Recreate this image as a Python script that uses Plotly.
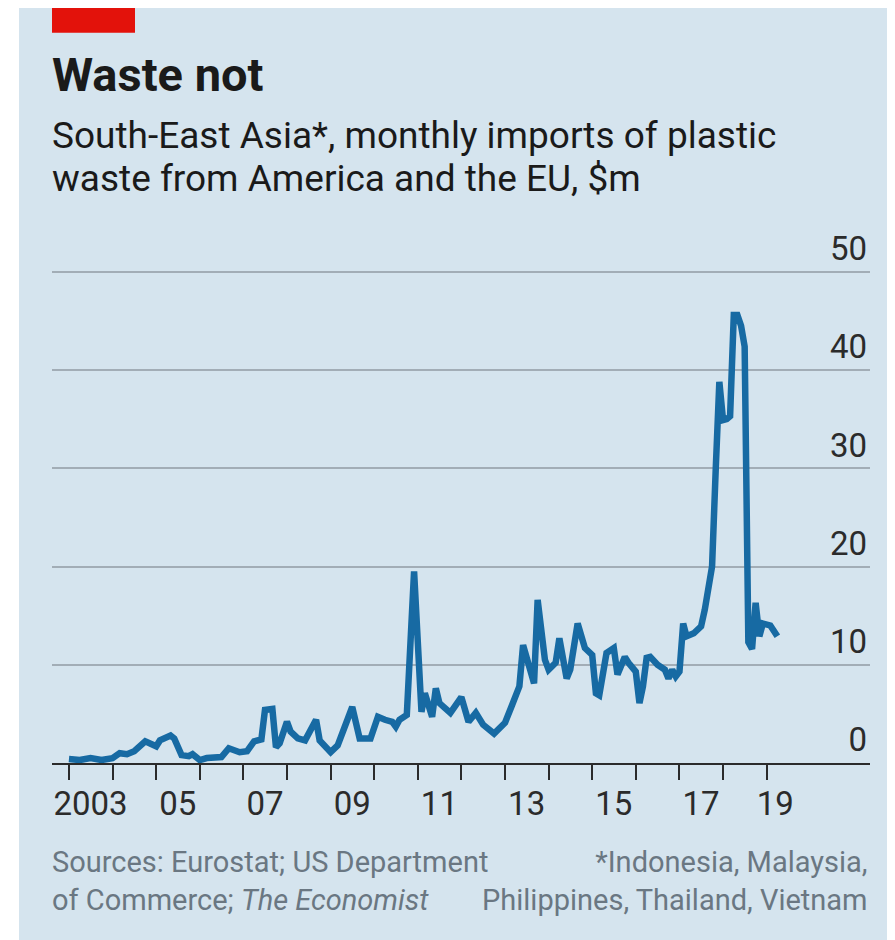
import plotly.graph_objects as go

# monthly imports of plastic waste, $m
dates = [
    "2003-01", "2003-04", "2003-07", "2003-10", "2004-01", "2004-03", "2004-05", "2004-07",
    "2004-10", "2005-01", "2005-02", "2005-05", "2005-06", "2005-08", "2005-10", "2005-11",
    "2006-01", "2006-03", "2006-07", "2006-09", "2006-12", "2007-02", "2007-04", "2007-06",
    "2007-07", "2007-09", "2007-10", "2007-11", "2008-01", "2008-02", "2008-04", "2008-06",
    "2008-09", "2008-10", "2009-01", "2009-03", "2009-07", "2009-09", "2009-12", "2010-02",
    "2010-04", "2010-06", "2010-07", "2010-08", "2010-10", "2010-12", "2011-02", "2011-03",
    "2011-05", "2011-06", "2011-07", "2011-10", "2012-01", "2012-03", "2012-05", "2012-07",
    "2012-10", "2013-01", "2013-03", "2013-05", "2013-06", "2013-08", "2013-09", "2013-10",
    "2013-12", "2014-01", "2014-03", "2014-04", "2014-06", "2014-07", "2014-09", "2014-11",
    "2015-01", "2015-02", "2015-03", "2015-05", "2015-07", "2015-08", "2015-10", "2015-11",
    "2016-01", "2016-02", "2016-03", "2016-04", "2016-05", "2016-07", "2016-09", "2016-10",
    "2016-11", "2016-12", "2017-01", "2017-02", "2017-03", "2017-05", "2017-07", "2017-08",
    "2017-09", "2017-10", "2017-11", "2017-12", "2018-01", "2018-02", "2018-03", "2018-04",
    "2018-05", "2018-06", "2018-07", "2018-08", "2018-09", "2018-10", "2018-11", "2018-12",
    "2019-02", "2019-04",
]
imports = [
    0.4, 0.3, 0.5, 0.3, 0.5, 1.0, 0.9, 1.2,
    2.2, 1.7, 2.3, 2.8, 2.5, 0.8, 0.7, 0.9,
    0.3, 0.5, 0.6, 1.5, 1.1, 1.2, 2.2, 2.4,
    5.4, 5.5, 1.6, 2.0, 4.2, 3.2, 2.5, 2.3,
    4.4, 2.3, 1.1, 1.8, 5.7, 2.5, 2.5, 4.7,
    4.4, 4.2, 3.7, 4.4, 4.9, 19.5, 5.2, 7.1,
    4.7, 7.6, 6.1, 5.1, 6.7, 4.2, 5.1, 3.9,
    3.0, 4.1, 5.9, 7.8, 12.0, 9.2, 8.1, 16.6,
    10.5, 9.5, 10.2, 12.7, 8.6, 9.5, 14.2, 11.7,
    11.0, 7.1, 6.9, 11.2, 11.7, 9.0, 10.8, 10.2,
    9.3, 6.1, 7.8, 10.7, 10.8, 10.0, 9.5, 8.6,
    9.5, 8.8, 9.3, 14.2, 12.9, 13.2, 13.9, 15.6,
    17.5, 20.0, 30.0, 38.8, 34.9, 35.0, 35.3, 45.6,
    45.6, 44.5, 42.4, 12.3, 11.6, 16.3, 12.9, 14.2,
    14.0, 12.9,
]

year_ticks = [f"{y}-01-01" for y in range(2003, 2020)]
label_pos = ["2003-07-01", "2005-07-01", "2007-07-01", "2009-07-01", "2011-07-01",
             "2013-07-01", "2015-07-01", "2017-07-01", "2019-03-15"]
label_text = ["2003", "05", "07", "09", "11", "13", "15", "17", "19"]
y_ticks = [0, 10, 20, 30, 40, 50]

BG = "#d5e4ee"
FONT = "Roboto"
OFF = 8  # page body margin

# figure coords: plot area x 44..862, zero line at 755, 9.82 px per unit
W, H = 895 - OFF, 940 - OFF
L, R, B = 44, 862, 755
YMAX = 57  # headroom so the inside "50" label is not clipped
T = B - YMAX * 9.82


def px(x):
    # page pixel -> paper fraction
    return (x - OFF - L) / (R - L)


def py(y):
    return (B - (y - OFF)) / (B - T)


fig = go.Figure()
fig.add_trace(
    go.Scatter(
        x=dates,
        y=imports,
        mode="lines",
        line=dict(color="#176aa3", width=6.5),
        hoverinfo="x+y",
    )
)

fig.update_layout(
    width=W,
    height=H,
    margin=dict(l=L, r=W - R, t=T, b=H - B),
    paper_bgcolor=BG,
    plot_bgcolor=BG,
    showlegend=False,
    font=dict(family=FONT, color="#2b2b2b"),
    xaxis=dict(
        type="date",
        range=["2002-08-12", "2021-05-16"],
        tickvals=label_pos,
        ticktext=label_text,
        ticks="",
        ticklabelstandoff=10,
        tickfont=dict(size=33, color="#2b2b2b"),
        showgrid=False,
        showline=True,
        linecolor="#2b2b2b",
        linewidth=2,
        zeroline=False,
        minor=dict(tickvals=year_ticks, ticks="outside", ticklen=15, tickwidth=2,
                   tickcolor="#2b2b2b", showgrid=False),
    ),
    yaxis=dict(
        range=[0, YMAX],
        side="right",
        tickvals=y_ticks,
        ticks="",
        ticklabelposition="inside top",
        tickfont=dict(size=33, color="#2b2b2b"),
        showgrid=True,
        gridcolor="#a2adb6",
        gridwidth=1.5,
        zeroline=False,
        showline=False,
    ),
    shapes=[
        # white strip on the left
        dict(type="rect", xref="paper", yref="paper", x0=px(0), x1=px(19), y0=py(945), y1=py(0),
             fillcolor="white", line=dict(width=0), layer="below"),
        # red tag
        dict(type="rect", xref="paper", yref="paper", x0=px(52), x1=px(135), y0=py(33), y1=py(8),
             fillcolor="#e3120b", line=dict(width=0)),
    ],
    annotations=[
        dict(text="<b>Waste not</b>", xref="paper", yref="paper", x=px(50), y=py(75),
             xanchor="left", yanchor="middle", showarrow=False,
             font=dict(size=47, color="#1a1a1a")),
        dict(text="South-East Asia*, monthly imports of plastic",
             xref="paper", yref="paper", x=px(50), y=py(136), xanchor="left", yanchor="middle",
             showarrow=False, font=dict(size=37, color="#1a1a1a")),
        dict(text="waste from America and the EU, $m",
             xref="paper", yref="paper", x=px(50), y=py(179), xanchor="left", yanchor="middle",
             showarrow=False, font=dict(size=37, color="#1a1a1a")),
        dict(text="Sources: Eurostat; US Department<br>of Commerce; <i>The Economist</i>",
             xref="paper", yref="paper", x=px(50), y=py(881), xanchor="left", yanchor="middle",
             align="left", showarrow=False, font=dict(size=29, color="#6a7782")),
        dict(text="*Indonesia, Malaysia,<br>Philippines, Thailand, Vietnam",
             xref="paper", yref="paper", x=px(870), y=py(881), xanchor="right", yanchor="middle",
             align="right", showarrow=False, font=dict(size=29, color="#6a7782")),
    ],
)

fig.write_html("out.html")
